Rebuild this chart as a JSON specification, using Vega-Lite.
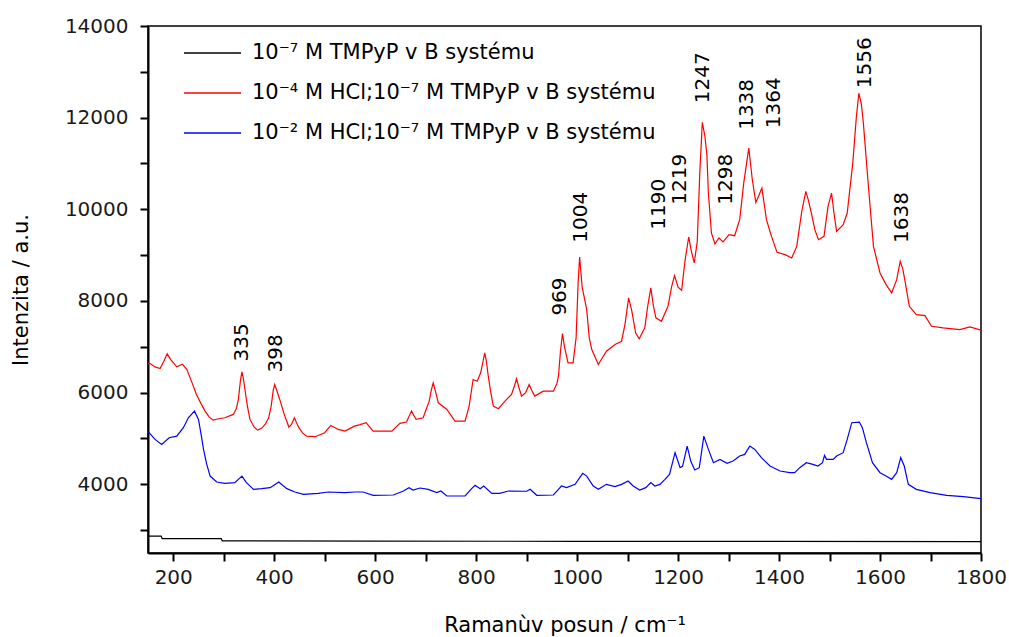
{
  "$schema": "https://vega.github.io/schema/vega-lite/v6.json",
  "width": 833,
  "height": 527,
  "autosize": {"type": "none"},
  "padding": {"left": 148, "top": 26, "right": 28, "bottom": 84},
  "background": "white",
  "config": {
    "view": {"stroke": "#000000", "strokeWidth": 1.5},
    "font": "DejaVu Sans",
    "axis": {
      "grid": false,
      "domainColor": "#000000",
      "domainWidth": 2,
      "tickColor": "#000000",
      "tickWidth": 2,
      "tickSize": 8,
      "labelFont": "DejaVu Sans",
      "labelFontSize": 20,
      "labelColor": "#1a1a1a",
      "titleFont": "DejaVu Sans",
      "titleFontSize": 21,
      "titleFontWeight": "normal",
      "titleColor": "#000000"
    },
    "legend": {
      "orient": "none",
      "legendX": 35,
      "legendY": -2.5,
      "symbolType": "stroke",
      "symbolSize": 3249,
      "symbolStrokeWidth": 1.3,
      "labelFont": "DejaVu Sans",
      "labelFontSize": 21,
      "labelColor": "#000000",
      "labelOffset": 10,
      "labelLimit": 700,
      "rowPadding": -26,
      "padding": 0
    }
  },
  "layer": [
    {
      "data": {"values": [
        {"s":"a","x":150,"y":2870},{"s":"a","x":176,"y":2870},{"s":"a","x":178,"y":2815},{"s":"a","x":295,"y":2815},{"s":"a","x":297,"y":2765},{"s":"a","x":600,"y":2760},{"s":"a","x":1000,"y":2755},{"s":"a","x":1400,"y":2752},{"s":"a","x":1800,"y":2750},
        {"s":"b","x":150,"y":6620},{"s":"b","x":152,"y":6650},{"s":"b","x":164,"y":6560},{"s":"b","x":174,"y":6526},{"s":"b","x":182,"y":6700},{"s":"b","x":188,"y":6846},{"s":"b","x":195,"y":6720},{"s":"b","x":207,"y":6563},{"s":"b","x":218,"y":6620},{"s":"b","x":227,"y":6504},{"s":"b","x":236,"y":6250},{"s":"b","x":246,"y":5960},{"s":"b","x":255,"y":5760},{"s":"b","x":263,"y":5596},{"s":"b","x":271,"y":5470},{"s":"b","x":279,"y":5400},{"s":"b","x":290,"y":5430},{"s":"b","x":302,"y":5452},{"s":"b","x":319,"y":5524},{"s":"b","x":325,"y":5650},{"s":"b","x":329,"y":5851},{"s":"b","x":333,"y":6250},{"s":"b","x":336,"y":6454},{"s":"b","x":339,"y":6300},{"s":"b","x":342,"y":6068},{"s":"b","x":347,"y":5700},{"s":"b","x":352,"y":5415},{"s":"b","x":360,"y":5250},{"s":"b","x":367,"y":5182},{"s":"b","x":375,"y":5220},{"s":"b","x":382,"y":5306},{"s":"b","x":389,"y":5450},{"s":"b","x":394,"y":5704},{"s":"b","x":398,"y":6050},{"s":"b","x":401,"y":6177},{"s":"b","x":405,"y":6050},{"s":"b","x":411,"y":5851},{"s":"b","x":420,"y":5520},{"s":"b","x":429,"y":5248},{"s":"b","x":434,"y":5300},{"s":"b","x":440,"y":5452},{"s":"b","x":444,"y":5350},{"s":"b","x":449,"y":5234},{"s":"b","x":456,"y":5120},{"s":"b","x":464,"y":5051},{"s":"b","x":481,"y":5038},{"s":"b","x":500,"y":5125},{"s":"b","x":512,"y":5284},{"s":"b","x":527,"y":5197},{"s":"b","x":540,"y":5160},{"s":"b","x":559,"y":5269},{"s":"b","x":570,"y":5300},{"s":"b","x":582,"y":5343},{"s":"b","x":596,"y":5160},{"s":"b","x":615,"y":5160},{"s":"b","x":633,"y":5160},{"s":"b","x":649,"y":5328},{"s":"b","x":662,"y":5357},{"s":"b","x":672,"y":5596},{"s":"b","x":681,"y":5415},{"s":"b","x":695,"y":5452},{"s":"b","x":707,"y":5814},{"s":"b","x":711,"y":6050},{"s":"b","x":715,"y":6214},{"s":"b","x":720,"y":6000},{"s":"b","x":725,"y":5778},{"s":"b","x":742,"y":5633},{"s":"b","x":758,"y":5378},{"s":"b","x":778,"y":5378},{"s":"b","x":786,"y":5700},{"s":"b","x":794,"y":6286},{"s":"b","x":802,"y":6249},{"s":"b","x":809,"y":6432},{"s":"b","x":817,"y":6868},{"s":"b","x":820,"y":6700},{"s":"b","x":824,"y":6358},{"s":"b","x":829,"y":6000},{"s":"b","x":834,"y":5705},{"s":"b","x":844,"y":5648},{"s":"b","x":854,"y":5778},{"s":"b","x":870,"y":5960},{"s":"b","x":876,"y":6150},{"s":"b","x":880,"y":6301},{"s":"b","x":885,"y":6100},{"s":"b","x":890,"y":5923},{"s":"b","x":898,"y":6000},{"s":"b","x":905,"y":6177},{"s":"b","x":910,"y":6050},{"s":"b","x":916,"y":5923},{"s":"b","x":933,"y":6032},{"s":"b","x":953,"y":6032},{"s":"b","x":960,"y":6200},{"s":"b","x":963,"y":6358},{"s":"b","x":967,"y":6900},{"s":"b","x":971,"y":7289},{"s":"b","x":975,"y":7000},{"s":"b","x":982,"y":6650},{"s":"b","x":992,"y":6650},{"s":"b","x":998,"y":7200},{"s":"b","x":1002,"y":8400},{"s":"b","x":1005,"y":8960},{"s":"b","x":1010,"y":8300},{"s":"b","x":1019,"y":7812},{"s":"b","x":1024,"y":7200},{"s":"b","x":1029,"y":6940},{"s":"b","x":1042,"y":6613},{"s":"b","x":1058,"y":6903},{"s":"b","x":1075,"y":7049},{"s":"b","x":1088,"y":7121},{"s":"b","x":1095,"y":7500},{"s":"b","x":1102,"y":8067},{"s":"b","x":1108,"y":7800},{"s":"b","x":1116,"y":7300},{"s":"b","x":1123,"y":7173},{"s":"b","x":1134,"y":7413},{"s":"b","x":1140,"y":7900},{"s":"b","x":1146,"y":8285},{"s":"b","x":1151,"y":7900},{"s":"b","x":1156,"y":7631},{"s":"b","x":1167,"y":7557},{"s":"b","x":1180,"y":7884},{"s":"b","x":1187,"y":8300},{"s":"b","x":1193,"y":8553},{"s":"b","x":1200,"y":8300},{"s":"b","x":1207,"y":8232},{"s":"b","x":1214,"y":8900},{"s":"b","x":1221,"y":9396},{"s":"b","x":1226,"y":9100},{"s":"b","x":1232,"y":8829},{"s":"b","x":1238,"y":9300},{"s":"b","x":1243,"y":10800},{"s":"b","x":1248,"y":11900},{"s":"b","x":1253,"y":11600},{"s":"b","x":1257,"y":11200},{"s":"b","x":1260,"y":10355},{"s":"b","x":1266,"y":9483},{"s":"b","x":1273,"y":9243},{"s":"b","x":1281,"y":9374},{"s":"b","x":1289,"y":9287},{"s":"b","x":1301,"y":9446},{"s":"b","x":1312,"y":9424},{"s":"b","x":1322,"y":9773},{"s":"b","x":1330,"y":10572},{"s":"b","x":1340,"y":11335},{"s":"b","x":1347,"y":10644},{"s":"b","x":1354,"y":10150},{"s":"b","x":1360,"y":10300},{"s":"b","x":1366,"y":10463},{"s":"b","x":1375,"y":9773},{"s":"b","x":1385,"y":9409},{"s":"b","x":1396,"y":9060},{"s":"b","x":1412,"y":9010},{"s":"b","x":1425,"y":8938},{"s":"b","x":1435,"y":9191},{"s":"b","x":1445,"y":9954},{"s":"b","x":1453,"y":10390},{"s":"b","x":1458,"y":10200},{"s":"b","x":1464,"y":9918},{"s":"b","x":1471,"y":9550},{"s":"b","x":1478,"y":9337},{"s":"b","x":1489,"y":9409},{"s":"b","x":1497,"y":10063},{"s":"b","x":1504,"y":10355},{"s":"b","x":1509,"y":9900},{"s":"b","x":1514,"y":9518},{"s":"b","x":1527,"y":9664},{"s":"b","x":1535,"y":9918},{"s":"b","x":1546,"y":11008},{"s":"b","x":1553,"y":12000},{"s":"b","x":1558,"y":12533},{"s":"b","x":1563,"y":12300},{"s":"b","x":1567,"y":11880},{"s":"b","x":1577,"y":10498},{"s":"b","x":1587,"y":9191},{"s":"b","x":1600,"y":8611},{"s":"b","x":1612,"y":8356},{"s":"b","x":1623,"y":8176},{"s":"b","x":1633,"y":8465},{"s":"b","x":1640,"y":8864},{"s":"b","x":1645,"y":8700},{"s":"b","x":1649,"y":8465},{"s":"b","x":1658,"y":7884},{"s":"b","x":1672,"y":7703},{"s":"b","x":1689,"y":7681},{"s":"b","x":1702,"y":7448},{"s":"b","x":1725,"y":7413},{"s":"b","x":1758,"y":7376},{"s":"b","x":1778,"y":7435},{"s":"b","x":1800,"y":7361},
        {"s":"c","x":150,"y":5150},{"s":"c","x":152,"y":5125},{"s":"c","x":164,"y":4979},{"s":"c","x":177,"y":4870},{"s":"c","x":192,"y":5016},{"s":"c","x":207,"y":5051},{"s":"c","x":220,"y":5234},{"s":"c","x":230,"y":5452},{"s":"c","x":242,"y":5596},{"s":"c","x":250,"y":5415},{"s":"c","x":255,"y":5100},{"s":"c","x":260,"y":4761},{"s":"c","x":266,"y":4450},{"s":"c","x":273,"y":4179},{"s":"c","x":286,"y":4049},{"s":"c","x":302,"y":4020},{"s":"c","x":322,"y":4035},{"s":"c","x":336,"y":4179},{"s":"c","x":345,"y":4035},{"s":"c","x":359,"y":3889},{"s":"c","x":375,"y":3904},{"s":"c","x":392,"y":3926},{"s":"c","x":409,"y":4049},{"s":"c","x":425,"y":3904},{"s":"c","x":441,"y":3831},{"s":"c","x":458,"y":3781},{"s":"c","x":487,"y":3802},{"s":"c","x":507,"y":3831},{"s":"c","x":540,"y":3817},{"s":"c","x":559,"y":3831},{"s":"c","x":576,"y":3831},{"s":"c","x":596,"y":3759},{"s":"c","x":636,"y":3766},{"s":"c","x":656,"y":3853},{"s":"c","x":667,"y":3926},{"s":"c","x":675,"y":3875},{"s":"c","x":689,"y":3918},{"s":"c","x":705,"y":3889},{"s":"c","x":722,"y":3817},{"s":"c","x":730,"y":3853},{"s":"c","x":742,"y":3744},{"s":"c","x":778,"y":3744},{"s":"c","x":791,"y":3904},{"s":"c","x":798,"y":3977},{"s":"c","x":808,"y":3904},{"s":"c","x":815,"y":3962},{"s":"c","x":831,"y":3802},{"s":"c","x":847,"y":3802},{"s":"c","x":864,"y":3853},{"s":"c","x":900,"y":3847},{"s":"c","x":907,"y":3889},{"s":"c","x":920,"y":3759},{"s":"c","x":953,"y":3766},{"s":"c","x":963,"y":3889},{"s":"c","x":969,"y":3962},{"s":"c","x":979,"y":3926},{"s":"c","x":996,"y":3998},{"s":"c","x":1011,"y":4238},{"s":"c","x":1019,"y":4179},{"s":"c","x":1032,"y":3962},{"s":"c","x":1042,"y":3889},{"s":"c","x":1058,"y":3998},{"s":"c","x":1075,"y":3947},{"s":"c","x":1088,"y":3998},{"s":"c","x":1101,"y":4071},{"s":"c","x":1111,"y":3962},{"s":"c","x":1124,"y":3875},{"s":"c","x":1136,"y":3926},{"s":"c","x":1146,"y":4035},{"s":"c","x":1154,"y":3962},{"s":"c","x":1164,"y":3998},{"s":"c","x":1174,"y":4107},{"s":"c","x":1183,"y":4216},{"s":"c","x":1194,"y":4689},{"s":"c","x":1204,"y":4362},{"s":"c","x":1209,"y":4398},{"s":"c","x":1218,"y":4833},{"s":"c","x":1225,"y":4507},{"s":"c","x":1233,"y":4311},{"s":"c","x":1242,"y":4362},{"s":"c","x":1251,"y":5051},{"s":"c","x":1260,"y":4761},{"s":"c","x":1270,"y":4471},{"s":"c","x":1283,"y":4543},{"s":"c","x":1297,"y":4456},{"s":"c","x":1309,"y":4507},{"s":"c","x":1322,"y":4616},{"s":"c","x":1332,"y":4652},{"s":"c","x":1342,"y":4833},{"s":"c","x":1352,"y":4761},{"s":"c","x":1365,"y":4580},{"s":"c","x":1382,"y":4398},{"s":"c","x":1402,"y":4289},{"s":"c","x":1421,"y":4253},{"s":"c","x":1431,"y":4253},{"s":"c","x":1441,"y":4362},{"s":"c","x":1454,"y":4471},{"s":"c","x":1467,"y":4434},{"s":"c","x":1477,"y":4398},{"s":"c","x":1486,"y":4471},{"s":"c","x":1490,"y":4630},{"s":"c","x":1494,"y":4543},{"s":"c","x":1507,"y":4543},{"s":"c","x":1514,"y":4616},{"s":"c","x":1527,"y":4689},{"s":"c","x":1535,"y":4979},{"s":"c","x":1544,"y":5343},{"s":"c","x":1559,"y":5357},{"s":"c","x":1565,"y":5234},{"s":"c","x":1573,"y":4907},{"s":"c","x":1585,"y":4471},{"s":"c","x":1600,"y":4253},{"s":"c","x":1612,"y":4179},{"s":"c","x":1623,"y":4107},{"s":"c","x":1633,"y":4253},{"s":"c","x":1641,"y":4580},{"s":"c","x":1648,"y":4398},{"s":"c","x":1656,"y":3998},{"s":"c","x":1672,"y":3889},{"s":"c","x":1699,"y":3817},{"s":"c","x":1732,"y":3759},{"s":"c","x":1765,"y":3729},{"s":"c","x":1800,"y":3686}
      ]},
      "mark": {"type": "line", "strokeWidth": 1.2, "clip": true},
      "encoding": {
        "x": {
          "field": "x", "type": "quantitative",
          "scale": {"domain": [150, 1800], "nice": false, "zero": false},
          "axis": {
            "title": "Ramanùv posun / cm⁻¹",
            "values": [200,300,400,500,600,700,800,900,1000,1100,1200,1300,1400,1500,1600,1700,1800],
            "labelExpr": "datum.value % 200 == 0 ? datum.label : ''",
            "format": "d",
            "labelPadding": 6,
            "titlePadding": 27,
            "labelFlush": false
          }
        },
        "y": {
          "field": "y", "type": "quantitative",
          "scale": {"domain": [2500, 14000], "nice": false, "zero": false},
          "axis": {
            "title": "Intenzita / a.u.",
            "values": [3000,4000,5000,6000,7000,8000,9000,10000,11000,12000,13000,14000],
            "labelExpr": "datum.value % 2000 == 0 ? datum.label : ''",
            "format": "d",
            "labelPadding": 12,
            "titleX": -127,
            "titleBaseline": "middle",
            "labelFlush": false
          }
        },
        "color": {
          "field": "s", "type": "nominal",
          "scale": {"domain": ["a", "b", "c"], "range": ["#000000", "#ff0000", "#0000ff"]},
          "legend": {
            "title": null,
            "labelExpr": "datum.value == 'a' ? '10⁻⁷ M TMPyP v B systému' : datum.value == 'b' ? '10⁻⁴ M HCl;10⁻⁷ M TMPyP v B systému' : '10⁻² M HCl;10⁻⁷ M TMPyP v B systému'"
          }
        }
      }
    },
    {
      "data": {"values": [
        {"t":"335","x":336,"y":6680},
        {"t":"398","x":403,"y":6440},
        {"t":"969","x":967,"y":7680},
        {"t":"1004","x":1008,"y":9272},
        {"t":"1190","x":1163,"y":9555},
        {"t":"1219","x":1204,"y":10100},
        {"t":"1247","x":1250,"y":12316},
        {"t":"1298","x":1295,"y":10100},
        {"t":"1338","x":1336,"y":11734},
        {"t":"1364","x":1390,"y":11771},
        {"t":"1556","x":1570,"y":12642},
        {"t":"1638","x":1643,"y":9265}
      ]},
      "mark": {"type": "text", "angle": 270, "align": "left", "baseline": "middle", "fontSize": 20, "font": "DejaVu Sans", "color": "#000000"},
      "encoding": {
        "x": {"field": "x", "type": "quantitative"},
        "y": {"field": "y", "type": "quantitative"},
        "text": {"field": "t"}
      }
    }
  ]
}
